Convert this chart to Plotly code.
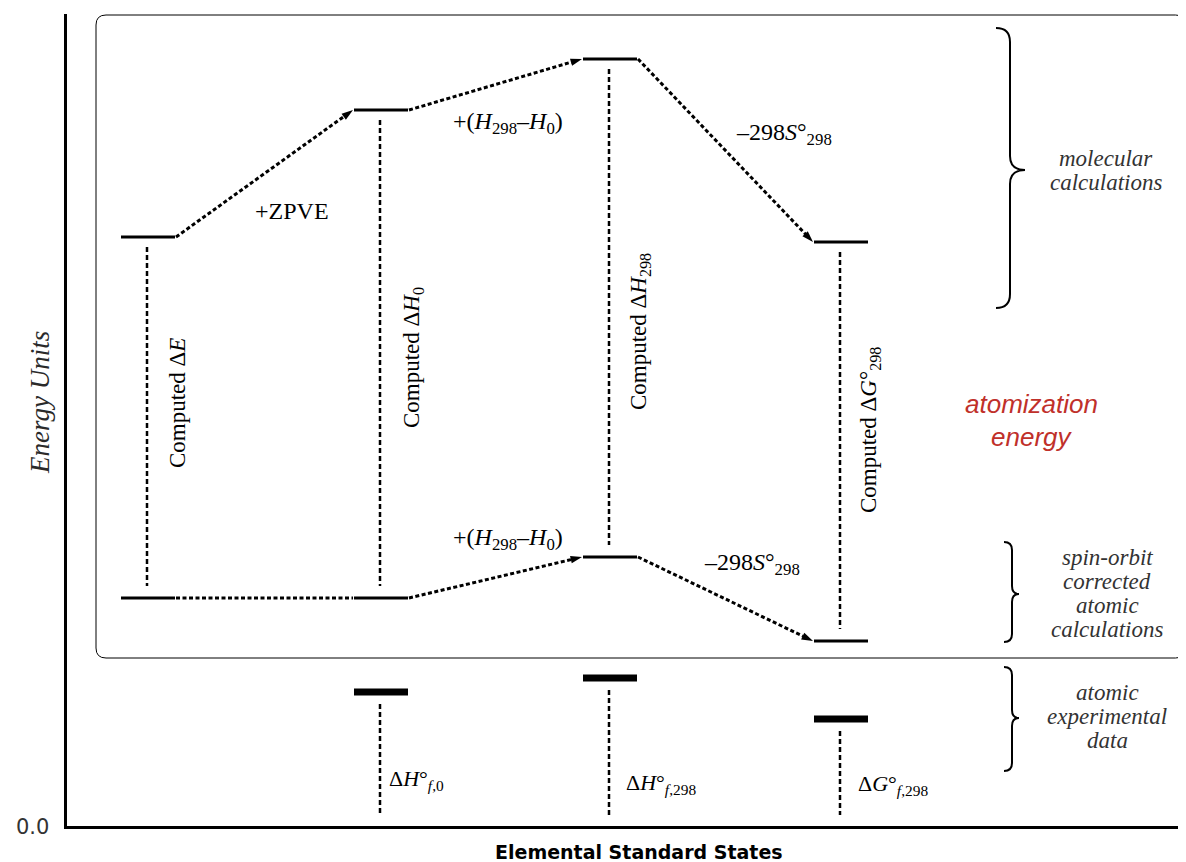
import plotly.graph_objects as go

# ---------------- data (arbitrary energy units) ----------------
columns = ["Computed ΔE", "Computed ΔH0", "Computed ΔH298", "Computed ΔG°298"]
col_x = [81, 314, 543, 774]                 # column centres (x units)
molecular = [589, 716, 767, 584]            # molecular calculation levels
atomic = [228, 228, 269, 185]               # spin-orbit corrected atomic levels
experimental = [None, 134, 148, 107]        # atomic experimental data levels

col_labels = [
    "Computed Δ<i>E</i>",
    "Computed Δ<i>H</i><sub>0</sub>",
    "Computed Δ<i>H</i><sub>298</sub>",
    "Computed Δ<i>G</i>°<sub>298</sub>",
]
exp_labels = [None,
              "Δ<i>H</i>°<sub><i>f</i>,0</sub>",
              "Δ<i>H</i>°<sub><i>f</i>,298</sub>",
              "Δ<i>G</i>°<sub><i>f</i>,298</sub>"]

# ---------------- styles ----------------
HW = 27          # half width of a level
BODY = 8         # browser default body margin
X0, Y0 = 67, 826  # screenshot pixel of the axes origin
XMAX, YMAX = 1119, 812
SERIF = "Liberation Serif"
SANS = "Liberation Sans"

def P(xp, yp):
    return xp - X0, Y0 - yp

def PP(xp, yp):
    return (xp - X0) / XMAX, (Y0 - yp) / YMAX

fig = go.Figure()

# level segments
lx, ly = [], []
for x, m, a in zip(col_x, molecular, atomic):
    lx += [x - HW, x + HW, None, x - HW, x + HW, None]
    ly += [m, m, None, a, a, None]
fig.add_trace(go.Scatter(x=lx, y=ly, mode="lines", line=dict(color="black", width=3),
                         hoverinfo="skip", showlegend=False))

# experimental bars
ex, ey = [], []
for x, e in zip(col_x, experimental):
    if e is None:
        continue
    ex += [x - HW, x + HW, None]
    ey += [e, e, None]
fig.add_trace(go.Scatter(x=ex, y=ey, mode="lines", line=dict(color="black", width=7),
                         hoverinfo="skip", showlegend=False))

# connectors with arrows
def connector(levels, i, arrow=True):
    xs = [col_x[i] + HW + 1, col_x[i + 1] - HW - 1]
    ys = [levels[i], levels[i + 1]]
    fig.add_trace(go.Scatter(
        x=xs, y=ys, mode="lines+markers" if arrow else "lines",
        line=dict(color="black", width=3, dash="4px,2.5px"),
        marker=dict(symbol=["circle", "arrow"], size=[1, 12], color="black",
                    opacity=[0, 1], angleref="previous", line=dict(width=0)),
        hoverinfo="skip", showlegend=False))

for i in range(3):
    connector(molecular, i)
connector(atomic, 0, arrow=False)
for i in (1, 2):
    connector(atomic, i)

# vertical dashed lines (computed quantities)
vx, vy = [], []
for x, m, a in zip(col_x, molecular, atomic):
    vx += [x - 1, x - 1, None]
    vy += [m - 10, a + 12, None]
for x, e in zip(col_x, experimental):
    if e is None:
        continue
    vx += [x - 1, x - 1, None]
    vy += [e - 12, 11, None]
fig.add_trace(go.Scatter(x=vx, y=vy, mode="lines",
                         line=dict(color="black", width=2.5, dash="5px,3px"),
                         hoverinfo="skip", showlegend=False))

# ---------------- shapes ----------------
shapes = []
L, R, T, B, r = 29, 1118.5, 811, 168, 10
box = (f"M{L+r},{T} L{R-r},{T} Q{R},{T} {R},{T-r} L{R},{B+r} Q{R},{B} {R-r},{B} "
       f"L{L+r},{B} Q{L},{B} {L},{B+r} L{L},{T-r} Q{L},{T} {L+r},{T} Z")
shapes.append(dict(type="path", path=box, xref="x", yref="y",
                   line=dict(color="black", width=1)))

def brace(xl, yt, yb, ym, hook=14, tip=15, r=12):
    xh = xl - hook
    xt = xl + tip
    return (f"M{xh},{yt} Q{xl},{yt} {xl},{yt-r} L{xl},{ym+r} Q{xl},{ym} {xt},{ym} "
            f"Q{xl},{ym} {xl},{ym-r} L{xl},{yb+r} Q{xl},{yb} {xh},{yb}")

for pth in [brace(943, 798, 518, 656, hook=14, tip=15, r=14),
            brace(945, 284, 184, 232, hook=8, tip=7, r=8),
            brace(945, 159, 55, 108, hook=8, tip=7, r=8)]:
    shapes.append(dict(type="path", path=pth, xref="x", yref="y",
                       line=dict(color="black", width=2)))

# ---------------- annotations ----------------
ann = []
def text(xp, yp, s, size=24, font=SERIF, color="black", angle=0, xanchor="center"):
    x, y = P(xp, yp)
    ann.append(dict(x=x, y=y, xref="x", yref="y", text=s, showarrow=False,
                    textangle=angle, xanchor=xanchor, yanchor="middle",
                    font=dict(family=font, size=size, color=color)))

def ptext(xp, yp, s, size, font, color="black", angle=0):
    x, y = PP(xp, yp)
    ann.append(dict(x=x, y=y, xref="paper", yref="paper", text=s, showarrow=False,
                    textangle=angle, xanchor="center", yanchor="middle",
                    font=dict(family=font, size=size, color=color)))

# column labels (rotated)
col_label_pos = [(177, 403), (413, 358), (640, 332), (870, 430)]
for (xp, yp), s in zip(col_label_pos, col_labels):
    text(xp, yp, s, size=23, angle=-90)

# step labels
text(292, 211, "+ZPVE", size=24)
text(508, 123, "+(<i>H</i><sub>298</sub>–<i>H</i><sub>0</sub>)", size=24)
text(784, 134, "–298<i>S</i>°<sub>298</sub>", size=24)
text(508, 539, "+(<i>H</i><sub>298</sub>–<i>H</i><sub>0</sub>)", size=24)
text(752, 564, "–298<i>S</i>°<sub>298</sub>", size=24)

# experimental labels
exp_label_pos = [None, (387, 780), (624, 784), (856, 785)]
for pos, s in zip(exp_label_pos, exp_labels):
    if pos is None:
        continue
    text(pos[0], pos[1], s, size=22, xanchor="left")

# brace labels, one line at a time for tight leading
GREY = "#333333"
def block(xc, yc, lines, step=24):
    n = len(lines)
    for k, ln in enumerate(lines):
        text(xc, yc + (k - (n - 1) / 2) * step, f"<i>{ln}</i>", size=23, color=GREY)

block(1106, 170, ["molecular", "calculations"])
block(1107, 593, ["spin-orbit", "corrected", "atomic", "calculations"])
block(1107, 716, ["atomic", "experimental", "data"])

# atomization energy
text(1031, 404, "<i>atomization</i>", size=26, font=SANS, color="#c0302a")
text(1031, 437, "<i>energy</i>", size=26, font=SANS, color="#c0302a")

# axis titles and the zero label (outside the plotting area)
ptext(40, 403, "<i>Energy Units</i>", 27, SERIF, "#2a2a2a", angle=-90)
ptext(639, 852, "<b>Elemental Standard States</b>", 19, "DejaVu Sans", "black")
ptext(32, 827, "0.0", 21, "DejaVu Sans", GREY)

fig.update_layout(
    width=1186 - BODY, height=862 - BODY,
    margin=dict(l=X0 - BODY, r=0, t=14 - BODY, b=862 - Y0),
    plot_bgcolor="white", paper_bgcolor="white",
    shapes=shapes, annotations=ann, showlegend=False,
    xaxis=dict(range=[0, XMAX], showgrid=False, zeroline=False, showticklabels=False,
               showline=True, linecolor="black", linewidth=3, ticks=""),
    yaxis=dict(range=[0, YMAX], showgrid=False, zeroline=False, showticklabels=False,
               showline=True, linecolor="black", linewidth=3, ticks=""),
)

fig.write_html("out.html")
